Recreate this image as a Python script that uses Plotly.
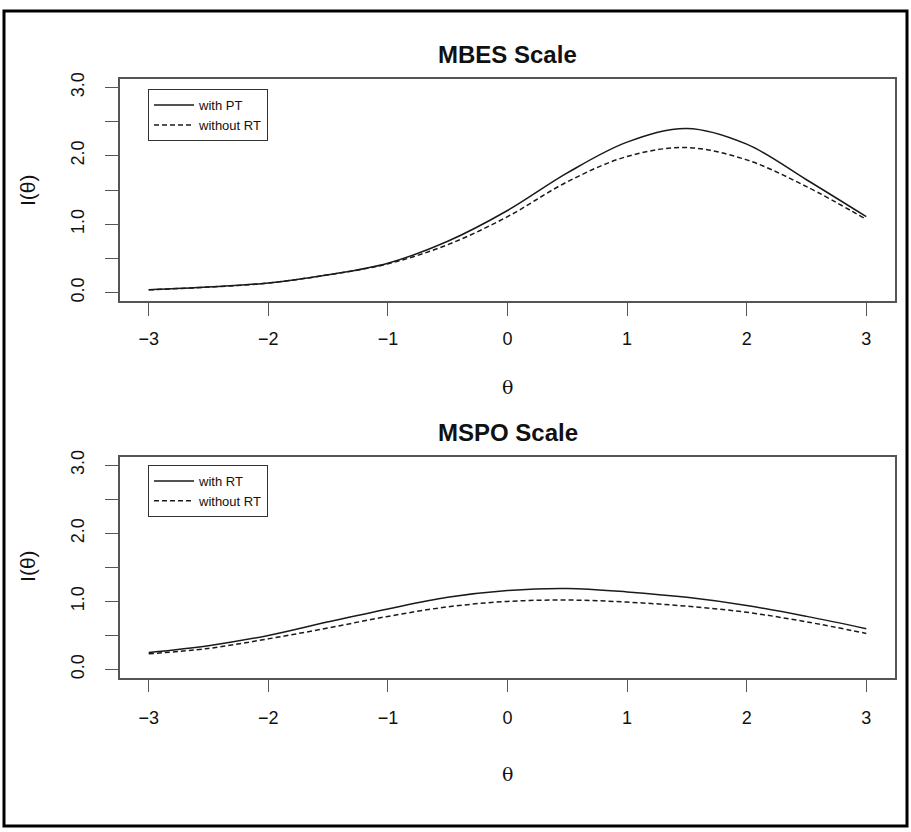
import plotly.graph_objects as go

# ---- data ----
theta = [-3, -2.5, -2, -1.5, -1, -0.5, 0, 0.5, 1, 1.5, 2, 2.5, 3]

mbes_with_rt = [0.04, 0.08, 0.14, 0.26, 0.43, 0.75, 1.20, 1.75, 2.20, 2.40, 2.17, 1.65, 1.11]
mbes_without_rt = [0.04, 0.08, 0.14, 0.26, 0.42, 0.70, 1.11, 1.62, 1.99, 2.12, 1.94, 1.55, 1.07]

mspo_with_rt = [0.25, 0.35, 0.50, 0.70, 0.89, 1.06, 1.16, 1.19, 1.14, 1.06, 0.94, 0.78, 0.60]
mspo_without_rt = [0.23, 0.31, 0.45, 0.61, 0.78, 0.92, 1.00, 1.02, 0.99, 0.93, 0.84, 0.70, 0.53]

x_ticks = [-3, -2, -1, 0, 1, 2, 3]
x_ticktext = ["−3", "−2", "−1", "0", "1", "2", "3"]
y_ticks = [0, 0.5, 1.0, 1.5, 2.0, 2.5, 3.0]
y_ticktext = ["0.0", "", "1.0", "", "2.0", "", "3.0"]

titles = ["MBES Scale", "MSPO Scale"]
legend_top = ["with PT", "without RT"]
legend_bottom = ["with RT", "without RT"]

W, H = 911, 832
FONT = "Liberation Sans, Arial, Helvetica, sans-serif"
SERIF = "DejaVu Serif, Liberation Serif, serif"
AX = "#555555"
LINE = "#1a1a1a"
TXT = "#111111"


def py(px):
    return 1 - px / H


def px_x(px):
    return px / W


fig = go.Figure()

panels = [
    dict(xa="x", ya="y", box=(73, 297), series=(mbes_with_rt, mbes_without_rt),
         names=legend_top, legend="legend", title=titles[0], title_y=48, xlab_y=384,
         leg_top=83, xstand=8, ylab_y=185),
    dict(xa="x2", ya="y2", box=(455, 678), series=(mspo_with_rt, mspo_without_rt),
         names=legend_bottom, legend="legend2", title=titles[1], title_y=430, xlab_y=775,
         leg_top=463, xstand=10, ylab_y=565),
]

for p in panels:
    s_with, s_without = p["series"]
    fig.add_trace(go.Scatter(x=theta, y=s_with, mode="lines", name=p["names"][0],
                             line=dict(color=LINE, width=1.5, shape="spline"),
                             xaxis=p["xa"], yaxis=p["ya"], legend=p["legend"]))
    fig.add_trace(go.Scatter(x=theta, y=s_without, mode="lines", name=p["names"][1],
                             line=dict(color=LINE, width=1.5, shape="spline", dash="5px,3px"),
                             xaxis=p["xa"], yaxis=p["ya"], legend=p["legend"]))

xdom = (px_x(120), px_x(895))

axis_common = dict(showline=True, linecolor=AX, linewidth=1.5, mirror=True,
                   showgrid=False, zeroline=False, ticks="outside", ticklen=13,
                   tickcolor=AX, tickwidth=1.3,
                   tickfont=dict(family=FONT, size=18, color=TXT))

layout = dict(
    width=W, height=H, margin=dict(l=0, r=0, t=0, b=0),
    paper_bgcolor="white", plot_bgcolor="white",
    font=dict(family=FONT, color=TXT),
)

legend_style = dict(bgcolor="white", bordercolor="#333333", borderwidth=1,
                    font=dict(family=FONT, size=13, color=TXT),
                    xanchor="left", yanchor="top", tracegroupgap=0, itemwidth=40)

ann = []
xc = (xdom[0] + xdom[1]) / 2
for i, p in enumerate(panels):
    sfx = "" if i == 0 else "2"
    b0, b1 = p["box"]
    layout["xaxis" + sfx] = dict(axis_common, domain=list(xdom), range=[-3.24, 3.24],
                                 tickvals=x_ticks, ticktext=x_ticktext,
                                 anchor="y" + sfx, ticklabelstandoff=p["xstand"])
    layout["yaxis" + sfx] = dict(axis_common, domain=[py(b1), py(b0)], range=[-0.12, 3.12],
                                 tickvals=y_ticks, ticktext=y_ticktext, tickangle=-90,
                                 anchor="x" + sfx, ticklabelstandoff=14)
    layout[p["legend"]] = dict(legend_style, x=px_x(148), y=py(p["leg_top"]))
    ann.append(dict(text="<b>" + p["title"] + "</b>", x=xc, y=py(p["title_y"]),
                    xref="paper", yref="paper", showarrow=False, yanchor="middle",
                    font=dict(family=FONT, size=24, color=TXT)))
    ann.append(dict(text="θ", x=xc, y=py(p["xlab_y"]), xref="paper", yref="paper",
                    showarrow=False, yanchor="middle",
                    font=dict(family=SERIF, size=19, color=TXT)))
    ann.append(dict(text="I(θ)", x=px_x(28), y=py(p["ylab_y"]), xref="paper", yref="paper",
                    showarrow=False, textangle=-90, xanchor="center", yanchor="middle",
                    font=dict(family=FONT, size=21, color=TXT)))

fig.update_layout(**layout)
fig.update_layout(annotations=ann)

# outer frame around the whole image
fig.add_shape(type="rect", xref="paper", yref="paper", x0=px_x(4), x1=px_x(907),
              y0=py(828), y1=py(4), line=dict(color="black", width=3),
              fillcolor="rgba(0,0,0,0)", layer="above")

fig.write_html("out.html", config={"displayModeBar": False},
               post_script="document.body.style.margin='0';document.body.style.overflow='hidden';")
